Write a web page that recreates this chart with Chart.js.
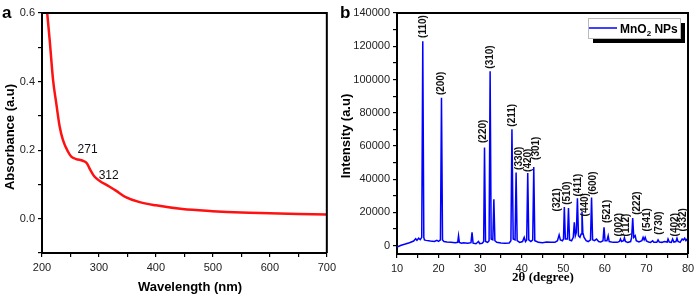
<!DOCTYPE html>
<html>
<head>
<meta charset="utf-8">
<script src="https://cdn.jsdelivr.net/npm/chart.js@4.4.1/dist/chart.umd.min.js"></script>
<style>
html, body { margin: 0; padding: 0; background: #fff; width: 700px; height: 297px; overflow: hidden; }
#wrapA { position: absolute; left: 0; top: 0; width: 340px; height: 297px; }
#wrapB { position: absolute; left: 340px; top: 0; width: 360px; height: 297px; }
</style>
</head>
<body>
<div id="wrapA"><canvas id="uvChart" width="340" height="297"></canvas></div>
<div id="wrapB"><canvas id="xrdChart" width="360" height="297"></canvas></div>
<script>
// (a) UV-vis absorbance
const wavelength = [208, 213.5, 219.4, 225, 231, 236.7, 245.5, 251.4, 260, 271.7, 278.7, 284.6, 292, 300.7, 318, 329.7, 347, 370, 400, 446.6, 499, 550, 600, 650, 700];
const absorbance = [0.62, 0.521, 0.405, 0.337, 0.269, 0.23, 0.196, 0.181, 0.174, 0.169, 0.162, 0.143, 0.123, 0.111, 0.094, 0.082, 0.063, 0.049, 0.039, 0.028, 0.022, 0.018, 0.016, 0.014, 0.012];
const uvNotes = ['271', '312'];
const uvNoteX = [280, 317];
const uvNoteY = [0.2, 0.125];

// (b) XRD pattern
const twoTheta = [
  10, 11, 12, 13, 14, 14.5, 14.8, 15.2, 15.6, 15.95, 16.2, 16.45,
  16.6, 17, 18, 19, 19.6, 20, 20.45, 20.7, 20.95, 21.3, 22, 23, 24,
  24.6, 24.8, 25, 25.5, 26, 27, 27.8, 28.05, 28.3, 29, 29.6, 29.9, 30.5,
  30.85, 31.05, 31.3, 31.8, 32.15, 32.4, 32.65, 33.05, 33.3, 33.55, 34, 35,
  36, 37, 37.4, 37.65, 37.95, 38.4, 38.65, 38.9, 39.5, 40.2, 40.6, 40.9,
  41.2, 41.45, 41.7, 42.2, 42.65, 42.9, 43.15, 43.6, 44, 45, 46, 47, 48,
  48.6, 49, 49.3, 49.8, 50.05, 50.25, 50.5, 51, 51.25, 51.5, 52, 52.4,
  52.65, 52.9, 53.15, 53.4, 53.65, 54, 54.3, 54.5, 54.7, 55, 55.5, 56,
  56.55, 56.8, 57.05, 57.5, 58, 58.5, 59, 59.55, 59.8, 60.05, 60.5, 60.8,
  61.05, 62, 63, 63.5, 63.75, 64, 64.5, 64.7, 64.95, 65.5, 66.2, 66.45,
  66.7, 66.95, 67.3, 67.55, 68.2, 68.9, 69.2, 69.45, 69.7, 70, 70.5, 71,
  71.5, 71.8, 72.5, 72.8, 73.1, 73.7, 74.3, 75, 75.2, 75.5, 76, 76.3,
  76.6, 77.1, 77.35, 77.6, 78.1, 78.6, 78.9, 79.2, 79.5, 79.8, 80
];
const counts = [
  -800, 300, 1000, 1800, 2800, 4200, 3200, 4500, 3600, 5000, 123000, 5000,
  3500, 3200, 2800, 2500, 3200, 2600, 3500, 89000, 3500, 2500, 2200, 2000, 1800,
  2000, 6000, 2000, 1500, 1800, 1500, 1800, 8000, 1500, 1200, 2500, 1200, 1500,
  2500, 59000, 2500, 2000, 3000, 105000, 4000, 3500, 28000, 3000, 2000, 1600,
  1500, 1600, 3000, 70000, 4000, 3500, 44000, 3000, 2000, 2500, 5000, 2500,
  3500, 43800, 3500, 2500, 3500, 47400, 3000, 2500, 2000, 1800, 2200, 2000, 2000,
  3000, 6500, 3500, 3000, 4000, 23200, 4000, 4000, 22600, 3500, 3000, 5000,
  14000, 6000, 8000, 28600, 6000, 5000, 7000, 20600, 8000, 5000, 3000, 2500,
  3500, 29000, 3500, 3000, 4000, 2500, 2200, 3000, 11000, 3000, 3000, 6000,
  2500, 2000, 2000, 2500, 4000, 2500, 3000, 4800, 2500, 2000, 2500, 5000,
  16600, 5000, 6000, 3000, 2200, 3000, 5000, 3500, 5000, 2800, 2200, 2000,
  3000, 2000, 2000, 3500, 2200, 2000, 2500, 2200, 4000, 2200, 2000, 4000,
  2200, 2500, 4500, 2500, 2000, 4000, 3500, 4500, 3000, 4000, 3500
];
const hklLabels = ['(110)', '(200)', '(220)', '(310)', '(211)', '(330)', '(420)', '(301)', '(321)', '(510)', '(411)', '(440)', '(600)', '(521)', '(002)', '(112)', '(222)', '(541)', '(730)', '(402)', '(332)'];
const hklAngle = [16.25, 20.7, 30.8, 32.4, 37.7, 39.4, 41.55, 43.45, 48.5, 51.0, 53.5, 55.4, 57.3, 60.5, 63.4, 65.1, 67.7, 70.1, 73.2, 77.0, 78.8];
const hklBase = [125000, 90600, 61800, 106500, 71600, 45600, 44400, 51600, 20600, 24600, 29600, 17600, 30600, 13600, 5600, 5600, 18600, 8600, 6600, 5600, 8600];

const intensityTicks = [];
for (let v = 0; v <= 140000; v += 10000) intensityTicks.push(v);

const sans = '"Liberation Sans", Arial, sans-serif';
const serif = '"Liberation Serif", "Times New Roman", serif';

const tickFont = { family: sans, size: 11 };

const framePlugin = {
    id: 'frame',
    afterDraw(chart) {
        const { ctx, chartArea: a } = chart;
        ctx.save();
        ctx.strokeStyle = '#000';
        ctx.lineWidth = 2;
        ctx.beginPath();
        ctx.moveTo(a.left, a.top);
        ctx.lineTo(a.right, a.top);
        ctx.lineTo(a.right, a.bottom);
        ctx.stroke();
        ctx.restore();
    }
};

const uvExtras = {
    id: 'uvExtras',
    afterDraw(chart) {
        const { ctx, scales } = chart;
        ctx.save();
        ctx.fillStyle = '#111';
        ctx.font = '12px ' + sans;
        ctx.textAlign = 'center';
        ctx.textBaseline = 'middle';
        uvNotes.forEach((t, i) => {
            ctx.fillText(t, scales.x.getPixelForValue(uvNoteX[i]), scales.y.getPixelForValue(uvNoteY[i]));
        });
        // panel letter
        ctx.font = 'bold 17px ' + sans;
        ctx.textAlign = 'left';
        ctx.textBaseline = 'alphabetic';
        ctx.fillStyle = '#000';
        ctx.fillText('a', 2, 18);
        // axis titles
        ctx.font = 'bold 13px ' + sans;
        ctx.textAlign = 'center';
        ctx.textBaseline = 'middle';
        ctx.fillText('Wavelength (nm)', 190, 287);
        ctx.translate(10, 137);
        ctx.rotate(-Math.PI / 2);
        ctx.fillText('Absorbance (a.u)', 0, 0);
        ctx.restore();
    }
};

const xrdExtras = {
    id: 'xrdExtras',
    afterDraw(chart) {
        const { ctx, scales } = chart;
        ctx.save();
        ctx.fillStyle = '#111';
        ctx.font = 'bold 10px ' + sans;
        ctx.textAlign = 'left';
        ctx.textBaseline = 'middle';
        hklLabels.forEach((t, i) => {
            ctx.save();
            ctx.translate(scales.x.getPixelForValue(hklAngle[i]), scales.y.getPixelForValue(hklBase[i]));
            ctx.rotate(-Math.PI / 2);
            ctx.fillText(t, 0, 0);
            ctx.restore();
        });

        // legend box with shadow
        const lx = 248, ly = 18, lw = 92, lh = 20;
        ctx.fillStyle = '#000';
        ctx.fillRect(lx + 5, ly + 5, lw, lh);
        ctx.fillStyle = '#fff';
        ctx.fillRect(lx, ly, lw, lh);
        ctx.strokeStyle = '#bbb';
        ctx.lineWidth = 1;
        ctx.strokeRect(lx + 0.5, ly + 0.5, lw, lh);
        ctx.strokeStyle = '#0000ff';
        ctx.lineWidth = 1.5;
        ctx.beginPath();
        ctx.moveTo(lx + 1, ly + 10);
        ctx.lineTo(lx + 29, ly + 10);
        ctx.stroke();
        ctx.fillStyle = '#000';
        ctx.font = 'bold 12px ' + sans;
        ctx.textAlign = 'left';
        ctx.textBaseline = 'alphabetic';
        let tx = lx + 32;
        ctx.fillText('MnO', tx, ly + 15);
        tx += ctx.measureText('MnO').width;
        ctx.font = 'bold 8px ' + sans;
        ctx.fillText('2', tx, ly + 18);
        tx += ctx.measureText('2').width;
        ctx.font = 'bold 12px ' + sans;
        ctx.fillText(' NPs', tx, ly + 15);

        // panel letter
        ctx.font = 'bold 17px ' + sans;
        ctx.fillText('b', 0, 18);
        // axis titles
        ctx.font = 'bold 13px ' + serif;
        ctx.textAlign = 'center';
        ctx.textBaseline = 'middle';
        ctx.fillText('2\u03b8 (degree)', 203, 278);
        ctx.font = 'bold 13px ' + sans;
        ctx.translate(6, 136);
        ctx.rotate(-Math.PI / 2);
        ctx.fillText('Intensity (a.u)', 0, 0);
        ctx.restore();
    }
};

const axisGrid = { display: true, drawOnChartArea: false, drawTicks: true, tickLength: 4, color: '#000', lineWidth: 1.2 };
const axisBorder = { display: true, color: '#000', width: 2 };

new Chart(document.getElementById('uvChart'), {
    type: 'line',
    data: {
        datasets: [{
            data: wavelength.map((w, i) => ({ x: w, y: absorbance[i] })),
            borderColor: '#ff1111',
            borderWidth: 2.5,
            pointRadius: 0,
            cubicInterpolationMode: 'monotone',
            fill: false
        }]
    },
    options: {
        responsive: false,
        animation: false,
        devicePixelRatio: 1,
        layout: { padding: { top: 13, right: 12, left: 0, bottom: 0 } },
        plugins: { legend: { display: false }, tooltip: { enabled: false } },
        scales: {
            x: {
                type: 'linear', min: 200, max: 700,
                grid: axisGrid, border: axisBorder,
                ticks: {
                    stepSize: 50, autoSkip: false, maxRotation: 0, color: '#222', font: tickFont, padding: 4,
                    callback: v => (v % 100 === 0 ? v : '')
                },
                afterFit: s => { s.height = 44; }
            },
            y: {
                type: 'linear', min: -0.1, max: 0.6,
                grid: axisGrid, border: axisBorder,
                ticks: {
                    stepSize: 0.1, autoSkip: false, color: '#222', font: tickFont, padding: 3,
                    callback: v => {
                        const k = Math.round(v * 10);
                        return (k >= 0 && k % 2 === 0) ? (k / 10).toFixed(1) : '';
                    }
                },
                afterFit: s => { s.width = 42; }
            }
        }
    },
    plugins: [framePlugin, uvExtras]
});

new Chart(document.getElementById('xrdChart'), {
    type: 'line',
    data: {
        datasets: [{
            data: twoTheta.map((t, i) => ({ x: t, y: counts[i] })),
            borderColor: '#0000ff',
            borderWidth: 1.5,
            pointRadius: 0,
            tension: 0,
            fill: false
        }]
    },
    options: {
        responsive: false,
        animation: false,
        devicePixelRatio: 1,
        layout: { padding: { top: 13, right: 12, left: 0, bottom: 0 } },
        plugins: { legend: { display: false }, tooltip: { enabled: false } },
        scales: {
            x: {
                type: 'linear', min: 10, max: 80,
                grid: axisGrid, border: axisBorder,
                ticks: {
                    stepSize: 5, autoSkip: false, maxRotation: 0, color: '#222', font: tickFont, padding: 4,
                    callback: v => (v % 10 === 0 ? v : '')
                },
                afterFit: s => { s.height = 43; }
            },
            y: {
                type: 'linear', min: -5000, max: 140000,
                grid: axisGrid, border: axisBorder,
                afterBuildTicks: s => { s.ticks = intensityTicks.map(v => ({ value: v })); },
                ticks: {
                    autoSkip: false, color: '#222', font: tickFont, padding: 3,
                    callback: v => (v % 20000 === 0 ? String(v) : '')
                },
                afterFit: s => { s.width = 57; }
            }
        }
    },
    plugins: [framePlugin, xrdExtras]
});
</script>
</body>
</html>
